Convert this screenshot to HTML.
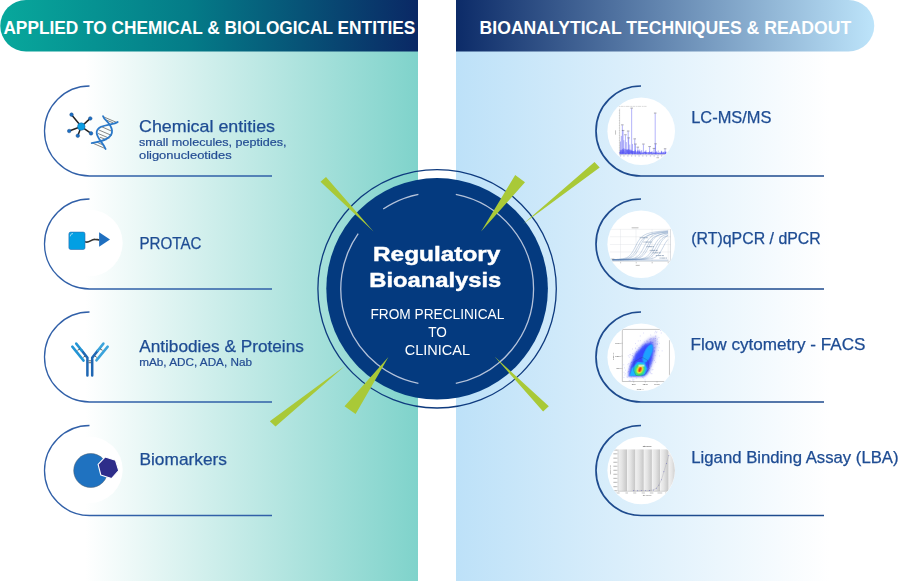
<!DOCTYPE html>
<html><head><meta charset="utf-8"><title>Regulatory Bioanalysis</title>
<style>
html,body{margin:0;padding:0;background:#fff;}
body{width:900px;height:581px;overflow:hidden;font-family:"Liberation Sans",sans-serif;}
svg{display:block;}
text{font-family:"Liberation Sans",sans-serif;}
.h{font-weight:bold;font-size:17.8px;fill:#fff;}
.l{font-size:15.7px;fill:#1e4c93;stroke:#1e4c93;stroke-width:0.25px;}
.s{font-size:11.5px;fill:#234c93;stroke:#234c93;stroke-width:0.2px;}
</style></head><body>
<svg width="900" height="581" viewBox="0 0 900 581">
<defs>
<linearGradient id="gL" x1="0" x2="1" y1="0" y2="0"><stop offset="0" stop-color="#08a89c"/><stop offset="0.45" stop-color="#047c88"/><stop offset="1" stop-color="#0a2865"/></linearGradient>
<linearGradient id="gR" x1="0" x2="1" y1="0" y2="0"><stop offset="0" stop-color="#0c2b68"/><stop offset="1" stop-color="#bde4fa"/></linearGradient>
<linearGradient id="pL" gradientUnits="userSpaceOnUse" x1="85" x2="418" y1="0" y2="0"><stop offset="0" stop-color="#ffffff"/><stop offset="1" stop-color="#7fd3cb"/></linearGradient>
<linearGradient id="pR" gradientUnits="userSpaceOnUse" x1="456" x2="830" y1="0" y2="0"><stop offset="0" stop-color="#bde1f8"/><stop offset="1" stop-color="#ffffff"/></linearGradient>

<clipPath id="c1"><circle cx="641.2" cy="131.2" r="33.6"/></clipPath>
<clipPath id="c2"><circle cx="641.2" cy="244.3" r="33.6"/></clipPath>
<clipPath id="c3"><circle cx="641.2" cy="357.2" r="33.6"/></clipPath>
<clipPath id="c4"><circle cx="641.2" cy="470.5" r="33.6"/></clipPath>
<filter id="blur3" x="-30%" y="-30%" width="160%" height="160%"><feGaussianBlur stdDeviation="14"/></filter>
<filter id="blur3c" x="-30%" y="-30%" width="160%" height="160%"><feGaussianBlur stdDeviation="9"/></filter>
<filter id="blur3b" x="-30%" y="-30%" width="160%" height="160%"><feGaussianBlur stdDeviation="5"/></filter>
<linearGradient id="band" x1="0" x2="1" y1="0" y2="0"><stop offset="0" stop-color="#f0f0f0"/><stop offset="0.4" stop-color="#e4e4e4"/><stop offset="1" stop-color="#c6c6c6"/></linearGradient>
</defs>
<!-- panels -->
<rect x="0" y="0" width="418" height="581" fill="url(#pL)"/>
<rect x="456" y="0" width="444" height="581" fill="url(#pR)"/>
<!-- banners -->
<path d="M26 0H418V51.5H26A25.75 25.75 0 0 1 26 0Z" fill="url(#gL)"/>
<path d="M456 0H848.5A25.75 25.75 0 0 1 848.5 51.5H456Z" fill="url(#gR)"/>
<text class="h" x="3.4" y="34" textLength="412" lengthAdjust="spacingAndGlyphs">APPLIED TO CHEMICAL &amp; BIOLOGICAL ENTITIES</text>
<text class="h" x="479.6" y="34" textLength="371.6" lengthAdjust="spacingAndGlyphs">BIOANALYTICAL TECHNIQUES &amp; READOUT</text>

<!-- left item frames -->
<g fill="none" stroke="#3160a8" stroke-width="1.3">
<path d="M89.5 86A45 45 0 0 0 89.5 176H272"/>
<path d="M89.5 199A45 45 0 0 0 89.5 289H272"/>
<path d="M89.5 312A45 45 0 0 0 89.5 402H272"/>
<path d="M89.5 425.5A45 45 0 0 0 89.5 515.5H272"/>
</g>
<g fill="#fff">
<circle cx="89.5" cy="243" r="33.2"/><circle cx="89.5" cy="469.8" r="33.2"/>
</g>

<!-- icon: molecule + DNA (coords in 10.57x zoom space) -->
<g transform="translate(60,105) scale(0.0946)">
<g stroke="#222" stroke-width="16" stroke-linecap="round">
<path d="M225 228L122 102M225 228L320 142M225 228L328 300M225 228L188 325M225 228L97 275"/>
</g>
<circle cx="225" cy="228" r="40" fill="#0a9de2" stroke="#1c5f9e" stroke-width="5"/>
<g fill="#1b6fc4" stroke="#1d4f8a" stroke-width="5">
<circle cx="122" cy="102" r="19"/><circle cx="320" cy="142" r="19"/><circle cx="328" cy="300" r="19"/><circle cx="188" cy="325" r="19"/><circle cx="97" cy="275" r="19"/>
</g>
<g stroke="#2b2b2b" stroke-width="6" fill="none">
<path d="M462 126L598 184M492 160L560 188M432 226L540 274M406 262L546 322M400 300L522 352M422 340L492 368M348 404L482 462M392 394L462 426"/>
</g>
<g stroke="#2a78c8" stroke-width="19" fill="none" stroke-linecap="round">
<path d="M455 118C470 165 540 190 550 270C556 340 480 382 335 402"/>
<path d="M610 180C560 218 400 200 388 285C380 350 460 400 482 465"/>
</g>
</g>
<!-- icon: PROTAC -->
<g>
<path d="M85 241.8C89.5 243.6 90.5 239.2 95 239.3C97 239.3 98 239.8 99.3 239.8" fill="none" stroke="#333" stroke-width="1.7"/>
<rect x="68.9" y="232.1" width="16.1" height="17.4" rx="1.8" fill="#029fe3" stroke="#2b6cb0" stroke-width="0.6"/>
<path d="M70.3 236.3C70.4 234.4 71.3 233.6 73 233.6" fill="none" stroke="#d8eefa" stroke-width="0.7"/>
<path d="M99.1 232.3V246.8L110 239.4Z" fill="#1f6fbf"/>
</g>
<!-- icon: antibody -->
<g fill="none" stroke-linecap="round" stroke-width="2.5">
<path d="M87.4 375.6V357.6L81.8 350.6" stroke="#1f67b3"/>
<path d="M81.8 350.6L76.2 343.6" stroke="#2394d4"/>
<path d="M92.2 375.6V357.6L97.8 350.6" stroke="#1f67b3"/>
<path d="M97.8 350.6L103.4 343.6" stroke="#3aa3db"/>
<path d="M72.3 346.6L83.6 360.6" stroke="#2394d4"/>
<path d="M107.7 346.6L96.4 360.4" stroke="#3aa3db"/>
<g stroke="#222" stroke-width="0.7" stroke-linecap="butt">
<path d="M77.5 350.3L79.9 348.9M83.2 357.4L85.1 356M102.5 350.3L100.1 348.9M96.8 357.4L94.9 356M88.6 360.8H91M88.6 362.7H91"/>
</g>
</g>
<!-- icon: biomarkers -->
<g>
<circle cx="90.7" cy="470.5" r="17" fill="#1f72c0" stroke="#4a5a6a" stroke-width="0.5"/>
<path d="M98.1 464.3L105.3 456.9L115.5 460.3L118.7 470.5L111.5 478.5L100.8 475Z" fill="#2e2d8a" stroke="#fff" stroke-width="1.1" stroke-linejoin="round"/>
</g>
<!-- right item frames -->
<g fill="none" stroke="#1e4b8e" stroke-width="1.7">
<path d="M641 86A45 45 0 0 0 641 176H824"/>
<path d="M641 199A45 45 0 0 0 641 289H824"/>
<path d="M641 312A45 45 0 0 0 641 402H824"/>
<path d="M641 425.5A45 45 0 0 0 641 515.5H824"/>
</g>
<g fill="#fff">
<circle cx="641.2" cy="131.2" r="33.8"/><circle cx="641.2" cy="244.2" r="33.8"/><circle cx="641.2" cy="357.2" r="33.8"/><circle cx="641.2" cy="470.5" r="33.8"/>
</g>

<!-- charts -->
<g clip-path="url(#c1)"><g transform="translate(605,95) scale(0.12392)">
<path d="M118 110V482H495" fill="none" stroke="#999" stroke-width="3"/>
<path d="M112 126H118M112 146H118M112 166H118M112 186H118M112 206H118M112 226H118M112 246H118M112 266H118M112 286H118M112 306H118M112 326H118M112 346H118M112 366H118M112 386H118M112 406H118M112 426H118M112 446H118M112 466H118" stroke="#888" stroke-width="3"/>
<path d="M110 92H335" stroke="#b5b5b5" stroke-width="4" stroke-dasharray="14 4 22 5 9 4 30 6"/>
<path d="M120 478L120 458L122 470L124 465L126 473L128 443L130 477L132 473L134 471L136 457L138 470L140 459L142 475L144 443L146 470L148 443L150 472L152 464L154 475L156 464L158 470L160 449L162 478L164 469L166 476L168 471L170 474L172 472L174 474L176 443L178 472L180 446L182 472L184 445L186 476L188 450L190 477L192 471L194 476L196 442L198 475L200 457L202 472L204 454L206 472L208 441L210 472L212 451L214 470L216 447L218 475L220 452L222 478L224 456L226 476L228 453L230 470L232 467L234 475L236 456L238 474L240 466L242 477L244 443L246 471L248 468L250 473L252 469L254 472L256 464L258 478L260 455L262 472L264 447L266 477L268 471L270 478L272 449L274 473L276 456L278 470L280 458L282 478L284 454L286 478L288 469L290 477L292 471L294 475L296 447L298 474L300 466L302 476L304 473L306 473L308 464L310 473L312 470L314 472L316 462L318 471L320 458L322 472L324 457L326 477L328 458L330 474L332 461L334 475L336 465L338 472L340 466L342 470L344 465L346 470L348 464L350 478L352 461L354 473L356 474L358 472L360 456L362 476L364 473L366 473L368 460L370 473L372 463L374 474L376 459L378 478L380 456L382 478L384 474L386 473L388 466L390 471L392 465L394 473L396 469L398 473L400 469L402 473L404 463L406 474L408 465L410 472L412 471L414 478L416 456L418 476L420 465L422 470L424 467L426 474L428 467L430 473L432 469L434 472L436 471L438 477L440 464L442 473L444 467L446 471L448 469L450 477L452 464L454 475L456 456L458 471L460 466L462 475L464 471L466 478L468 458L470 475L472 464L474 476L476 466L478 473L480 472L482 473L484 456L486 476L488 461L490 474L492 458L494 474" fill="none" stroke="#4a4af5" stroke-width="4" opacity="0.7"/>
<path d="M120 478L122 455L135 440L150 430L170 440L190 435L210 450L240 452L270 460L300 465L350 466L400 466L440 468L490 466L492 478Z" fill="#6a6af8" opacity="0.55"/>
<path d="M215 478V110M405 478V150M140 478V245M146 478V290M165 478V325M187 478V295M191 478V350M240 478V358M246 478V400M265 478V425M310 478V400M360 478V420M395 478V435M408 478V398M485 478V438M125 478V375M132 478V330M152 478V365M172 478V380M200 478V400M222 478V395M280 478V440M330 478V445M430 478V448M455 478V450" fill="none" stroke="#4848f2" stroke-width="4.5" opacity="0.75"/>
<path d="M205 106H225M395 146H415M130 241H150M136 286H156M155 321H175M177 291H197M181 346H201M230 354H250M236 396H256M255 421H275M300 396H320M350 416H370M385 431H405M398 394H418M475 434H495" fill="none" stroke="#334" stroke-width="5" opacity="0.7"/>
<path d="M120 492H130M148 492H158M180 492H190M210 492H220M240 492H250M270 492H280M300 492H310M330 492H340M362 492H372M392 492H402M422 492H432M452 492H462" stroke="#5a5ab0" stroke-width="5" opacity="0.7"/>
<path d="M415 506H436" stroke="#777" stroke-width="4"/>
<path d="M85 285V320" stroke="#888" stroke-width="4"/>
</g></g>

<g clip-path="url(#c2)"><g transform="translate(605,208) scale(0.12392)">
<g stroke="#d9dde2" stroke-width="3" fill="none"><path d="M40 172H530M40 232H530M40 295H530M40 355H530M125 172V430M250 172V430M380 172V430M510 172V430"/></g>
<path d="M40 430H530M528 172V430" stroke="#9aa2ad" stroke-width="3" fill="none"/>
<path d="M60 416L68 416L76 415L84 415L92 415L100 414L108 414L116 413L124 412L132 411L140 410L148 409L156 407L164 404L172 402L180 398L188 393L196 387L204 379L212 369L220 358L228 345L236 330L244 314L252 299L260 283L268 269L276 257L284 246L292 238L300 230L308 224L316 219L324 215L332 211L340 208L348 206L356 203L364 201L372 199L380 198L388 196L396 195L404 193L412 192L420 191L428 190L436 189L444 188L452 187L460 187L468 186L476 185L484 185L492 184L500 184L508 183M60 417L68 417L76 416L84 416L92 416L100 416L108 416L116 415L124 415L132 414L140 414L148 413L156 413L164 412L172 411L180 409L188 408L196 406L204 403L212 399L220 395L228 389L236 382L244 374L252 363L260 351L268 336L276 321L284 305L292 290L300 276L308 263L316 252L324 242L332 234L340 228L348 223L356 218L364 214L372 211L380 208L388 206L396 204L404 202L412 200L420 198L428 197L436 196L444 194L452 193L460 192L468 191L476 190L484 190L492 189L500 188L508 188M60 417L68 417L76 417L84 417L92 417L100 417L108 417L116 416L124 416L132 416L140 416L148 415L156 415L164 415L172 414L180 414L188 413L196 412L204 411L212 410L220 408L228 406L236 404L244 401L252 397L260 392L268 385L276 377L284 368L292 356L300 343L308 328L316 312L324 297L332 282L340 269L348 257L356 247L364 239L372 232L380 226L388 221L396 217L404 214L412 211L420 209L428 206L436 204L444 203L452 201L460 199L468 198L476 197L484 196L492 194L500 193L508 193M60 418L68 418L76 417L84 417L92 417L100 417L108 417L116 417L124 417L132 417L140 417L148 417L156 416L164 416L172 416L180 416L188 415L196 415L204 414L212 414L220 413L228 413L236 412L244 411L252 409L260 408L268 406L276 403L284 400L292 395L300 390L308 383L316 374L324 364L332 352L340 338L348 323L356 307L364 292L372 278L380 265L388 254L396 245L404 238L412 231L420 226L428 222L436 218L444 215L452 212L460 210L468 207L476 206L484 204L492 202L500 201L508 199M60 418L68 418L76 418L84 418L92 418L100 418L108 418L116 417L124 417L132 417L140 417L148 417L156 417L164 417L172 417L180 417L188 417L196 416L204 416L212 416L220 416L228 415L236 415L244 415L252 414L260 413L268 413L276 412L284 411L292 410L300 408L308 406L316 403L324 400L332 396L340 390L348 383L356 375L364 364L372 352L380 339L388 324L396 308L404 293L412 279L420 267L428 256L436 247L444 239L452 233L460 228L468 223L476 220L484 216L492 214L500 211L508 209M60 418L68 418L76 418L84 418L92 418L100 418L108 418L116 418L124 418L132 418L140 418L148 418L156 417L164 417L172 417L180 417L188 417L196 417L204 417L212 417L220 417L228 416L236 416L244 416L252 416L260 416L268 415L276 415L284 414L292 414L300 413L308 413L316 412L324 411L332 409L340 408L348 405L356 403L364 399L372 395L380 389L388 382L396 373L404 362L412 350L420 336L428 321L436 306L444 291L452 277L460 265L468 255L476 246L484 239L492 233L500 228L508 224M60 418L68 418L76 418L84 418L92 418L100 418L108 418L116 418L124 418L132 418L140 418L148 418L156 418L164 418L172 418L180 418L188 418L196 417L204 417L212 417L220 417L228 417L236 417L244 417L252 417L260 417L268 416L276 416L284 416L292 416L300 416L308 415L316 415L324 414L332 414L340 413L348 412L356 411L364 410L372 409L380 407L388 405L396 402L404 398L412 393L420 387L428 380L436 371L444 360L452 347L460 333L468 318L476 303L484 288L492 275L500 264L508 254M60 416L68 416L76 416L84 416L92 416L100 415L108 415L116 414L124 414L132 413L140 413L148 412L156 411L164 409L172 408L180 405L188 403L196 399L204 395L212 389L220 382L228 373L236 362L244 350L252 336L260 321L268 306L276 291L284 277L292 265L300 255L308 246L316 239L324 233L332 228L340 224L348 220L356 218L364 215L372 213L380 211L388 209L396 207L404 206L412 204L420 203L428 202L436 201L444 200L452 199L460 198L468 197L476 196L484 196L492 195L500 195L508 194M60 417L68 417L76 417L84 417L92 417L100 417L108 417L116 417L124 417L132 417L140 416L148 416L156 416L164 416L172 415L180 415L188 415L196 414L204 413L212 413L220 412L228 411L236 409L244 408L252 406L260 403L268 400L276 395L284 390L292 383L300 374L308 364L316 352L324 338L332 323L340 308L348 294L356 280L364 268L372 257L380 249L388 241L396 235L404 230L412 226L420 223L428 220L436 217L444 215L452 213L460 211L468 209L476 208L484 206L492 205L500 204L508 203M60 418L68 418L76 418L84 418L92 418L100 418L108 418L116 418L124 418L132 418L140 417L148 417L156 417L164 417L172 417L180 417L188 417L196 417L204 417L212 416L220 416L228 416L236 416L244 415L252 415L260 415L268 414L276 414L284 413L292 412L300 411L308 410L316 409L324 407L332 404L340 401L348 398L356 393L364 386L372 378L380 369L388 358L396 345L404 331L412 316L420 301L428 287L436 275L444 264L452 255L460 247L468 241L476 235L484 231L492 227L500 224L508 221" fill="none" stroke="#5f86b6" stroke-width="3.2" opacity="0.8"/>
<path d="M50 421H510" stroke="#5f86b6" stroke-width="7" opacity="0.45"/>
<path d="M280 240H345M310 275H375M335 312H395M360 342H425M385 362H450M410 384H475M440 404H500" stroke="#3b5a82" stroke-width="5" stroke-dasharray="10 4 30 4 18 4" opacity="0.75"/>
<path d="M215 160H270M248 463H280M50 412H75" stroke="#777" stroke-width="5" opacity="0.8"/>
<path d="M122 442H130M248 442H256M376 442H386M506 442H514" stroke="#777" stroke-width="5" opacity="0.8"/>
</g></g>

<g clip-path="url(#c3)"><g transform="translate(605,321) scale(0.12392)">
<path d="M194 405h.1M246 182h.1M203 270h.1M376 191h.1M360 148h.1M317 255h.1M273 386h.1M224 431h.1M348 231h.1M379 395h.1M286 285h.1M294 275h.1M272 337h.1M419 88h.1M346 300h.1M408 83h.1M379 425h.1M212 452h.1M441 282h.1M152 353h.1M321 222h.1M306 355h.1M332 286h.1M339 378h.1M391 144h.1M314 368h.1M289 230h.1M327 376h.1M288 307h.1M318 280h.1M225 262h.1M411 121h.1M302 419h.1M325 271h.1M461 241h.1M405 279h.1M312 377h.1M203 481h.1M423 188h.1M258 201h.1M370 233h.1M153 456h.1M323 476h.1M252 387h.1M318 344h.1M346 256h.1M328 292h.1M370 170h.1M292 378h.1M178 447h.1M265 418h.1M454 97h.1M380 187h.1M303 264h.1M188 281h.1M187 404h.1M381 229h.1M436 216h.1M336 360h.1M414 95h.1M360 184h.1M225 479h.1M267 394h.1M296 360h.1M367 151h.1M258 401h.1M362 241h.1M245 218h.1M303 454h.1M255 245h.1M198 365h.1M302 439h.1M344 352h.1M253 250h.1M371 425h.1M220 364h.1M380 172h.1M371 337h.1M188 388h.1M312 418h.1M220 278h.1M312 459h.1M317 168h.1M235 431h.1M430 237h.1M346 182h.1M213 333h.1M277 299h.1M266 249h.1M240 341h.1M189 409h.1M199 389h.1M344 244h.1M256 460h.1M387 305h.1M287 321h.1M275 382h.1M343 254h.1M318 344h.1M323 299h.1M264 411h.1M215 394h.1M409 333h.1M363 195h.1M341 346h.1M438 180h.1M305 328h.1M277 334h.1M249 392h.1M291 237h.1M281 216h.1M304 353h.1M218 401h.1M243 368h.1M308 300h.1M397 214h.1M269 340h.1M163 425h.1M298 401h.1M349 309h.1M353 197h.1M254 363h.1M365 177h.1M285 394h.1M366 178h.1M341 356h.1M404 218h.1M277 394h.1M249 224h.1M379 175h.1M387 392h.1M284 272h.1M329 323h.1M350 214h.1M229 383h.1M216 370h.1M285 295h.1M274 280h.1M251 394h.1M338 368h.1M266 407h.1M248 279h.1M355 228h.1M325 184h.1M408 123h.1M268 442h.1M229 313h.1M295 398h.1M306 250h.1M355 401h.1M435 134h.1M245 321h.1M359 383h.1M320 247h.1M247 441h.1M259 400h.1M395 247h.1M300 281h.1M399 319h.1M267 232h.1M405 140h.1M289 308h.1M303 250h.1M278 306h.1M368 414h.1M399 242h.1M293 365h.1M287 322h.1M375 236h.1M331 274h.1M196 444h.1M313 254h.1M280 396h.1M227 389h.1M341 200h.1M409 160h.1M401 241h.1M216 434h.1M356 343h.1M376 345h.1M276 360h.1M354 315h.1M278 296h.1M229 309h.1M409 184h.1M343 264h.1M256 361h.1M318 199h.1M333 424h.1M406 141h.1M345 250h.1M367 140h.1M333 306h.1M376 143h.1M299 268h.1M243 360h.1M350 314h.1M243 365h.1M300 355h.1M292 201h.1M284 244h.1M305 206h.1M217 405h.1M261 289h.1M325 284h.1M324 301h.1M324 194h.1M306 303h.1M234 371h.1M287 354h.1M346 279h.1M299 394h.1M314 250h.1M341 324h.1M361 273h.1M362 317h.1M448 76h.1M217 335h.1M410 209h.1M349 376h.1M278 299h.1M320 301h.1M327 307h.1M304 379h.1M271 393h.1M230 288h.1M356 277h.1M157 378h.1M236 355h.1M313 292h.1M423 146h.1M300 335h.1M253 400h.1M334 274h.1M329 189h.1M319 268h.1M322 310h.1M301 339h.1M349 330h.1M314 323h.1M381 273h.1M283 427h.1M367 233h.1M394 217h.1M345 163h.1M308 246h.1M381 174h.1M241 445h.1M295 432h.1M196 292h.1M330 368h.1M298 255h.1M367 247h.1M426 167h.1M294 248h.1M336 280h.1M326 312h.1M267 443h.1M323 311h.1M289 308h.1M355 294h.1M304 345h.1M284 394h.1M254 274h.1M333 161h.1M256 267h.1M230 293h.1M374 365h.1M301 353h.1M348 250h.1M365 349h.1M318 320h.1M259 264h.1M327 271h.1M372 250h.1M312 97h.1M257 353h.1M278 404h.1M309 315h.1M179 456h.1M285 301h.1M270 366h.1M248 310h.1M369 113h.1M368 248h.1M335 189h.1M272 419h.1M222 226h.1M275 339h.1M289 239h.1M389 172h.1M296 372h.1M330 330h.1M245 389h.1M276 287h.1M309 365h.1M402 96h.1M304 192h.1M297 359h.1M295 221h.1M346 244h.1M418 186h.1M320 238h.1M285 258h.1M185 352h.1M184 414h.1M306 317h.1M231 444h.1M368 281h.1M311 319h.1M326 364h.1M233 474h.1M268 161h.1M219 330h.1M195 481h.1M303 419h.1M232 336h.1M320 322h.1M372 229h.1M192 444h.1M261 306h.1M332 219h.1M287 304h.1M246 268h.1M192 343h.1M243 285h.1M374 296h.1M320 231h.1M366 167h.1M306 311h.1M298 364h.1M165 397h.1M339 163h.1M301 350h.1M231 329h.1M256 306h.1M317 238h.1M324 349h.1M160 436h.1M398 256h.1M281 281h.1M394 187h.1M285 159h.1M256 297h.1M272 433h.1M325 219h.1M350 361h.1M336 234h.1M338 254h.1M217 427h.1M347 289h.1M208 414h.1M211 335h.1M384 199h.1M284 121h.1M339 429h.1M154 414h.1M384 316h.1M300 217h.1M353 256h.1M336 286h.1M399 243h.1M424 184h.1M220 281h.1M272 215h.1M340 270h.1M353 243h.1M299 405h.1M206 346h.1M377 221h.1M245 398h.1M401 217h.1M295 442h.1M322 262h.1M245 259h.1M320 329h.1M262 406h.1M202 274h.1M298 381h.1M224 469h.1M270 242h.1M331 350h.1M303 208h.1M375 205h.1M377 324h.1M361 235h.1M386 218h.1M370 168h.1M372 231h.1" stroke="#3b3be6" stroke-width="5" stroke-linecap="round" opacity="0.35" fill="none"/>
<g filter="url(#blur3)">
<path d="M188 448L200 370L240 265L300 190L360 140L415 125L420 200L400 300L360 400L325 446Z" fill="#4646ea" opacity="0.42"/>
</g>
<path filter="url(#blur3c)" d="M190 446L206 362L250 262L318 190L378 172L392 235L378 320L348 412L312 446Z" fill="#2a3cff" opacity="0.88"/>
<g filter="url(#blur3b)">
<ellipse cx="345" cy="262" rx="30" ry="80" transform="rotate(24 345 262)" fill="#1fa2ff"/>
<path d="M198 442L215 385L262 330L320 335L340 385L318 438Z" fill="#1fb4ff"/>
<ellipse cx="280" cy="395" rx="42" ry="50" transform="rotate(25 280 395)" fill="#3fe07a"/>
<ellipse cx="281" cy="393" rx="25" ry="33" transform="rotate(25 281 393)" fill="#e8e830"/>
<ellipse cx="282" cy="391" rx="12" ry="21" transform="rotate(25 282 391)" fill="#f03a18"/>
</g>
<path d="M235 330L300 292L345 318L355 385L320 435L250 440L232 400Z" fill="none" stroke="#2a3a55" stroke-width="2.5" opacity="0.8"/>
<rect x="270" y="352" width="48" height="16" fill="#e8f0e8" opacity="0.75"/>
<path d="M140 68V488H480M140 68H445M520 155V440" fill="none" stroke="#666" stroke-width="3"/>
<path d="M132 180H140M132 283H140M132 383H140M232 488V496M325 488V496M420 488V496" stroke="#666" stroke-width="3"/>
<g font-size="19" fill="#333" text-anchor="middle" opacity="0.9"><text x="105" y="186">160K</text><text x="105" y="289">120K</text><text x="110" y="389">80K</text><text x="232" y="520">80K</text><text x="325" y="520">120K</text><text x="420" y="520">160K</text><text x="285" y="560">FSC-A</text><text transform="translate(70 285) rotate(-90)" x="0" y="0">SSC-A</text></g>
</g></g>

<g clip-path="url(#c4)"><g transform="translate(605,434) scale(0.12392)">
<rect x="105" y="125" width="470" height="337" fill="#f6f6f6"/>
<rect x="108" y="125" width="70" height="337" fill="url(#band)"/><rect x="182" y="125" width="62" height="337" fill="url(#band)"/><rect x="248" y="125" width="64" height="337" fill="url(#band)"/><rect x="316" y="125" width="62" height="337" fill="url(#band)"/><rect x="382" y="125" width="62" height="337" fill="url(#band)"/><rect x="448" y="125" width="64" height="337" fill="url(#band)"/><rect x="516" y="125" width="60" height="337" fill="url(#band)"/>
<path d="M105 125V462H575" fill="none" stroke="#999" stroke-width="3"/>
<path d="M230 458L262 458L295 457L328 457L360 456L390 452L415 437L435 412L455 370L475 305L495 238L515 172" fill="none" stroke="#9a9aa8" stroke-width="2.5"/>
<g fill="#4a4ab8" opacity="0.85"><circle cx="230" cy="458" r="3.4"/><circle cx="262" cy="458" r="3.4"/><circle cx="295" cy="457" r="3.4"/><circle cx="328" cy="457" r="3.4"/><circle cx="360" cy="456" r="3.4"/><circle cx="390" cy="452" r="3.4"/><circle cx="415" cy="437" r="3.4"/><circle cx="435" cy="412" r="3.4"/><circle cx="455" cy="370" r="3.4"/><circle cx="475" cy="305" r="3.4"/><circle cx="495" cy="238" r="3.4"/><circle cx="515" cy="172" r="3.4"/></g>
<path d="M66 130H100M68 160H100M68 195H100M68 228H100M68 260H100M68 293H100M68 325H100M68 358H100M68 390H100M68 425H100M68 458H100" stroke="#555" stroke-width="6" stroke-dasharray="3 1.5" opacity="0.9"/>
<path d="M92 476H118M165 476H185M228 476H252M296 476H322M362 476H390M424 476H462M486 476H496" stroke="#777" stroke-width="5" opacity="0.7"/>
<g font-size="15" fill="#444" text-anchor="middle" font-weight="bold"><text x="340" y="103">Std Curve</text></g>
<g font-size="14" fill="#666" text-anchor="middle"><text x="340" y="502">Std (ng/mL)</text><text transform="translate(46 290) rotate(-90)">Average OD</text></g>
</g></g>
<!-- labels left -->
<text class="l" x="139.0" y="132" textLength="136.0" lengthAdjust="spacingAndGlyphs">Chemical entities</text>
<text class="s" x="139.0" y="145.6" textLength="147.6" lengthAdjust="spacingAndGlyphs">small molecules, peptides,</text>
<text class="s" x="139.0" y="158.6" textLength="92.6" lengthAdjust="spacingAndGlyphs">oligonucleotides</text>
<text class="l" x="139.5" y="249.1" textLength="62.0" lengthAdjust="spacingAndGlyphs">PROTAC</text>
<text class="l" x="139.2" y="352.3" textLength="164.7" lengthAdjust="spacingAndGlyphs">Antibodies &amp; Proteins</text>
<text class="s" x="139.2" y="365.7" textLength="112.8" lengthAdjust="spacingAndGlyphs">mAb, ADC, ADA, Nab</text>
<text class="l" x="139.5" y="464.9" textLength="87.4" lengthAdjust="spacingAndGlyphs">Biomarkers</text>
<!-- labels right -->
<text class="l" x="691.2" y="122.6" textLength="80.3" lengthAdjust="spacingAndGlyphs">LC-MS/MS</text>
<text class="l" x="691.3" y="244.3" textLength="129.5" lengthAdjust="spacingAndGlyphs">(RT)qPCR / dPCR</text>
<text class="l" x="690.6" y="349.8" textLength="174.9" lengthAdjust="spacingAndGlyphs">Flow cytometry - FACS</text>
<text class="l" x="691.3" y="463.2" textLength="207.3" lengthAdjust="spacingAndGlyphs">Ligand Binding Assay (LBA)</text>

<!-- centre -->
<g id="centre">
<circle cx="437.1" cy="288.8" r="119.2" fill="none" stroke="#0e3a7e" stroke-width="1.3"/>
<circle cx="437.1" cy="288.8" r="110.8" fill="#043a7f"/>
<g fill="none" stroke="#b4c2da" stroke-width="1.3">
<path d="M455.8 194.3A96.3 96.3 0 0 1 455.8 383.3M418.4 383.3A96.3 96.3 0 0 1 358.2 233.6M383.2 209.0A96.3 96.3 0 0 1 418.4 194.3"/>
</g>
<path d="M320.5 181.7L326 176.9L373.5 231.6ZM515.2 175.1L525 182.3L481.1 231.4ZM594.5 162.1L599.7 167.6L523 224.1ZM269.8 421.2L275.5 426.4L345.2 365.7ZM344.5 406.2L355.6 414L388.4 357.1ZM543.1 411.4L548.8 406.2L494.6 356.6Z" fill="#a9c937"/>
<g fill="#fff" text-anchor="start">
<text x="373" y="261.4" font-size="21" font-weight="bold" stroke="#fff" stroke-width="0.45" textLength="127.4" lengthAdjust="spacingAndGlyphs">Regulatory</text>
<text x="369.3" y="287.2" font-size="21" font-weight="bold" stroke="#fff" stroke-width="0.45" textLength="132" lengthAdjust="spacingAndGlyphs">Bioanalysis</text>
<text x="370.4" y="319.3" font-size="14" textLength="133.9" lengthAdjust="spacingAndGlyphs">FROM PRECLINICAL</text>
<text x="428.2" y="336.8" font-size="14" textLength="18.6" lengthAdjust="spacingAndGlyphs">TO</text>
<text x="404.8" y="354.8" font-size="14" textLength="65.2" lengthAdjust="spacingAndGlyphs">CLINICAL</text>
</g>
</g>
</svg>
</body></html>
